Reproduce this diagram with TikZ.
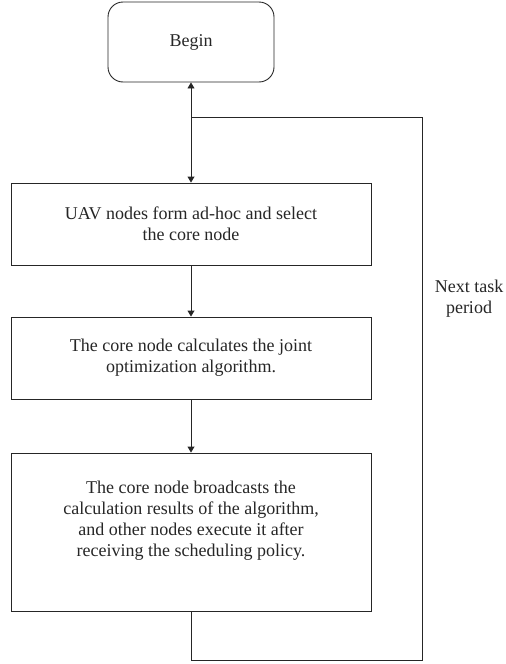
\documentclass[tikz,border=0pt]{standalone}
\usepackage{fontspec}
\setmainfont{Liberation Serif}
\usetikzlibrary{arrows.meta}
\begin{document}
\begin{tikzpicture}[x=1pt,y=1pt,
  every node/.style={font=\fontsize{18}{21}\selectfont, text=black!85},
  ln/.style={draw=black!85, line width=0.9pt},
  procbox/.style={ln, rectangle, minimum width=360pt, inner sep=0pt, align=center},
  startbox/.style={ln, rectangle, rounded corners=15pt, minimum width=166pt, minimum height=80pt, inner sep=0pt},
  arr/.style={ln, -{Triangle[width=7pt,length=6pt]}}
]
\useasboundingbox (0,0) rectangle (506,-664);
\node[startbox] (begin) at (191,-42) {Begin};
\node[procbox, minimum height=82pt] (b1) at (191,-224) {UAV nodes form ad-hoc and select\\the core node};
\node[procbox, minimum height=82pt] (b2) at (191,-358) {The core node calculates the joint\\optimization algorithm.};
\node[procbox, minimum height=158pt] (b3) at (191,-532) {};
\node[align=center] (t3) at (191,-521) {The core node broadcasts the\\calculation results of the algorithm,\\and other nodes execute it after\\receiving the scheduling policy.};
\node[align=center] (lab) at (469,-299) {Next task\\period};
\coordinate (j) at (191,-117);
\coordinate (c1) at (191,-660);
\coordinate (c2) at (422,-660);
\coordinate (c3) at (422,-117);
\draw[arr] (j) -- (begin.south);
\draw[arr] (j) -- (b1.north);
\draw[arr] (b1.south) -- (b2.north);
\draw[arr] (b2.south) -- (b3.north);
\draw[ln] (b3.south) -- (c1) -- (c2) -- (c3) -- (j);
\end{tikzpicture}
\end{document}
